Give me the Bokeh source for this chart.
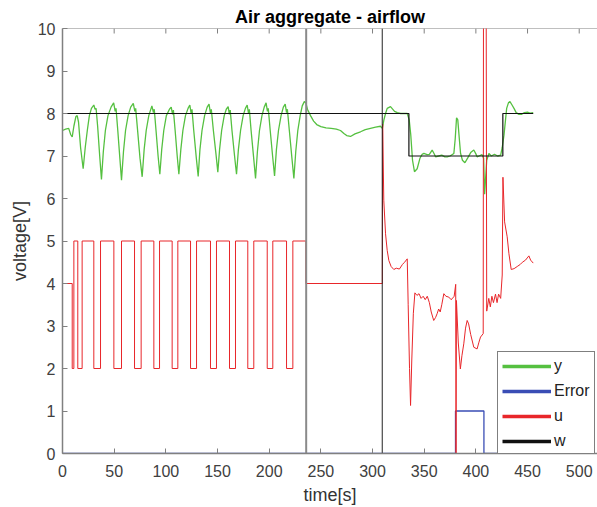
from bokeh.plotting import figure
from bokeh.models import Range1d, FixedTicker, Legend, LegendItem
from bokeh.embed import file_html
from bokeh.resources import INLINE

# ---------------- data ----------------
x_ticks = [0, 50, 100, 150, 200, 250, 300, 350, 400, 450, 500]
y_ticks = [0, 1, 2, 3, 4, 5, 6, 7, 8, 9, 10]

y_t = [0, 3, 6, 8, 9.4, 11, 13, 14.2, 15.5, 17.5, 20, 22, 24, 26, 28, 30.3, 31.5, 32.5, 34, 36, 37.7,
       39.5, 41.5, 44, 47, 49.5, 51, 51.8, 53.5, 55.5, 57.1, 59, 61, 63.5, 66, 68.5, 70, 70.8, 72.5, 75, 77.1,
       79, 81, 83.5, 86.5, 88, 88.8, 90.5, 92.5, 94.2, 96, 98, 100.5, 103.5, 105.2, 106.5, 107.3, 109, 111, 112.6,
       114.5, 116.5, 119, 121.5, 123.2, 124.5, 125.3, 127, 129.5, 131.3, 133, 135, 137.5, 140, 141.8, 143.2, 144,
       146, 148.5, 150.3, 152, 154, 156.5, 158.5, 160.3, 161.5, 162.3, 164, 166.5, 168.4, 170.2, 172.3, 174.8,
       177, 178.7, 180, 180.8, 182.5, 185, 186.8, 188.6, 190.6, 193, 195.2, 197, 198.3, 199.1, 201, 203.3, 205.2,
       207, 209, 211.5, 213.7, 215.5, 216.8, 217.6, 219.5, 222, 223.9, 225.7, 227.7, 230, 232, 234, 235.5, 237,
       240, 243, 246, 250, 255, 260, 265, 269, 272.3, 275, 278.7, 283, 288.4, 293, 298, 303, 307.7, 309.5, 311,
       312.6, 314.2, 317.4, 321.3, 324, 327.2, 330, 333.6, 335.5, 337, 338.7, 340.6, 343.2, 345.8, 348, 349.7,
       352.8, 355, 357.7, 359.5, 361, 364, 367, 370, 372.3, 375, 378.7, 380, 381.3, 382.5, 384, 385.2, 387,
       389.4, 392, 395, 398, 400, 401.2, 403, 406, 407.5, 408.5, 410.5, 412.6, 415, 418, 421, 424, 425.5, 427.2,
       429.8, 431.5, 433, 435, 436.9, 439, 441.7, 444, 447, 450, 452.3, 455.5]
y_v = [7.60, 7.63, 7.65, 7.50, 7.45, 7.70, 7.93, 7.95, 7.80, 7.20, 6.70, 7.20, 7.60, 7.95, 8.12, 8.20, 8.10, 8.12, 7.70, 7.00, 6.45,
       7.10, 7.60, 7.95, 8.15, 8.25, 8.05, 8.12, 7.60, 6.95, 6.43, 7.10, 7.60, 7.95, 8.15, 8.24, 8.05, 8.12, 7.65, 6.95, 6.51,
       7.15, 7.60, 7.95, 8.18, 8.02, 8.10, 7.60, 7.00, 6.57, 7.15, 7.60, 7.95, 8.10, 8.15, 7.98, 8.08, 7.60, 7.00, 6.57,
       7.15, 7.60, 7.95, 8.12, 8.20, 8.00, 8.10, 7.60, 6.95, 6.52, 7.15, 7.60, 7.95, 8.15, 8.22, 8.00, 8.10,
       7.60, 7.05, 6.62, 7.15, 7.60, 7.95, 8.10, 8.16, 7.98, 8.08, 7.60, 7.00, 6.57, 7.15, 7.60, 7.95,
       8.12, 8.20, 8.00, 8.10, 7.60, 6.95, 6.47, 7.10, 7.60, 7.95, 8.15, 8.25, 8.05, 8.12, 7.60, 7.00, 6.53,
       7.15, 7.60, 7.95, 8.15, 8.22, 8.02, 8.10, 7.60, 6.95, 6.47, 7.10, 7.60, 7.95, 8.18, 8.28, 8.25, 8.10,
       7.95, 7.82, 7.74, 7.69, 7.66, 7.65, 7.63, 7.60, 7.53, 7.48, 7.46, 7.52, 7.57, 7.62, 7.65, 7.68, 7.70, 7.65, 7.85,
       8.00, 8.12, 8.16, 8.05, 8.02, 8.00, 8.00, 8.00, 7.85, 7.50, 6.90, 6.63, 6.70, 6.94, 7.04, 7.06,
       7.03, 7.04, 7.14, 7.06, 6.98, 7.00, 7.02, 6.98, 6.98, 7.00, 7.06, 7.40, 7.90, 7.85, 7.40, 7.06, 6.90,
       6.84, 6.95, 7.08, 7.14, 7.05, 6.98, 7.00, 7.03, 6.95, 6.10, 6.90, 7.06, 7.00, 7.04, 7.00, 7.02, 7.20, 7.49,
       8.12, 8.25, 8.28, 8.20, 8.12, 8.02, 7.98, 7.98, 8.02, 8.03, 8.01, 8.02]

err_t = [0, 380.3, 380.3, 407.8, 407.8, 455.5]
err_v = [0, 0, 1, 1, 0, 0]

u_t = [0, 9.4, 9.4, 11, 11, 14.8, 14.8, 19, 19, 30.3, 30.3, 36.8, 36.8, 49.7, 49.7, 57.1, 57.1, 69.7, 69.7,
       76.1, 76.1, 88.4, 88.4, 93.9, 93.9, 106.1, 106.1, 111.6, 111.6, 123.9, 123.9, 129.7, 129.7, 143.2, 143.2,
       149, 149, 161.6, 161.6, 167.4, 167.4, 179.3, 179.3, 185.1, 185.1, 198.1, 198.1, 203.5, 203.5, 216.8, 216.8,
       222.9, 222.9, 235.5, 235.5, 309.5, 309.8, 310.9, 312.6, 314.2, 315.8, 318, 320.6, 323, 326, 329, 331, 333.6,
       334.5, 335.8, 336.8, 338, 339.5, 341, 343, 345, 347, 349, 351, 353, 355, 356.8, 359.2, 361, 362.5, 364,
       365.5, 367, 369, 371, 373.8, 376, 377, 379, 380.5, 380.8, 381.2, 383, 385, 386.5, 388.3, 390, 391.6, 393,
       395, 398, 401.2, 403, 404.5, 407.1, 407.7, 409.3, 410.5, 412.5, 414, 415.5, 417, 419, 420.5, 422, 424,
       425.5, 426.2, 427.8, 430.3, 432, 434.2, 437, 440, 443, 445, 448, 451.3, 453, 455.5]
u_v = [4, 4, 2, 2, 5, 5, 2, 2, 5, 5, 2, 2, 5, 5, 2, 2, 5, 5, 2,
       2, 5, 5, 2, 2, 5, 5, 2, 2, 5, 5, 2, 2, 5, 5, 2,
       2, 5, 5, 2, 2, 5, 5, 2, 2, 5, 5, 2, 2, 5, 5, 2,
       2, 5, 5, 4, 4, 7.75, 5.96, 5.17, 4.78, 4.54, 4.40, 4.33, 4.36, 4.34, 4.45, 4.50, 4.58,
       3.5, 2.0, 1.13, 2.2, 3.3, 3.78, 3.72, 3.76, 3.65, 3.70, 3.62, 3.70, 3.55, 3.33, 3.13, 3.20, 3.29, 3.40,
       3.33, 3.50, 3.76, 3.70, 3.68, 3.62, 3.64, 3.70, 3.98, 0, 3.60, 2.60, 1.99, 2.30, 2.58, 2.95, 3.13, 3.05,
       2.80, 2.50, 2.46, 2.62, 2.74, 2.82, 20, 20, 3.35, 3.65, 3.45, 3.70, 3.55, 3.75, 3.55, 3.75, 3.65,
       4.2, 6.5, 5.45, 5.1, 4.7, 4.33, 4.35, 4.40, 4.45, 4.50, 4.55, 4.65, 4.55, 4.48]

w_t = [0, 335.2, 335.2, 426.1, 426.1, 455.5]
w_v = [8, 8, 7, 7, 8, 8]

marker_t = [235.8, 309.4]
marker_colors = ["#8a8a8a", "#222222"]
marker_widths = [2, 1]

series_names = ["y", "Error", "u", "w"]
series_colors = ["#55c040", "#3a4db5", "#e8262a", "#111111"]
series_t = [y_t, err_t, u_t, w_t]
series_v = [y_v, err_v, u_v, w_v]

Y_MIN, Y_MAX = 0, 10
X_MIN, X_MAX = 0, 517.7

# ---------------- figure ----------------
FONT = "Liberation Sans"
AXIS_GRAY = "#808080"
p = figure(width=597, height=507, output_backend="svg", toolbar_location=None,
           x_range=Range1d(X_MIN, X_MAX), y_range=Range1d(Y_MIN, Y_MAX),
           min_border_left=62, min_border_right=0, min_border_top=28, min_border_bottom=54,
           title="Air aggregate - airflow")
p.title.text_font = FONT
p.title.text_font_size = "18px"
p.title.text_font_style = "bold"
p.title.align = "center"
p.title.text_color = "#000000"
p.title.standoff = 4

p.xgrid.visible = False
p.ygrid.visible = False
p.outline_line_color = None
p.background_fill_color = "white"
p.border_fill_color = "white"

p.xaxis.ticker = FixedTicker(ticks=x_ticks)
p.yaxis.ticker = FixedTicker(ticks=y_ticks)
for ax in (p.xaxis[0], p.yaxis[0]):
    ax.major_tick_in = 5
    ax.major_tick_out = 0
    ax.minor_tick_line_color = None
    ax.axis_line_color = AXIS_GRAY
    ax.axis_line_width = 1.5
    ax.major_tick_line_color = AXIS_GRAY
    ax.major_label_text_font = FONT
    ax.major_label_text_font_size = "16px"
    ax.major_label_text_color = "#404040"
    ax.axis_label_text_font = FONT
    ax.axis_label_text_font_size = "18px"
    ax.axis_label_text_font_style = "normal"
    ax.axis_label_text_color = "#333333"
p.xaxis.axis_label = "time[s]"
p.yaxis.axis_label = "voltage[V]"
p.xaxis.major_label_standoff = 11
p.yaxis.major_label_standoff = 7
p.xaxis.axis_label_standoff = 5
p.yaxis.axis_label_standoff = 5

# top border of the box with inward tick marks at the x ticks
tick_len = 5 * (Y_MAX - Y_MIN) / 425.0
p.segment(x0=[X_MIN], y0=[Y_MAX], x1=[X_MAX], y1=[Y_MAX], line_color=AXIS_GRAY, line_width=1)
p.segment(x0=x_ticks, y0=[Y_MAX] * len(x_ticks), x1=x_ticks, y1=[Y_MAX - tick_len] * len(x_ticks),
          line_color=AXIS_GRAY, line_width=1)

# ---------------- data lines ----------------
p.line(y_t, y_v, line_color=series_colors[0], line_width=1.3)
p.line(err_t, err_v, line_color=series_colors[1], line_width=1.3)
p.line(u_t, u_v, line_color=series_colors[2], line_width=1)
p.segment(x0=marker_t, y0=[Y_MIN] * len(marker_t), x1=marker_t, y1=[Y_MAX] * len(marker_t),
          line_color=marker_colors, line_width=marker_widths)
p.line(w_t, w_v, line_color=series_colors[3], line_width=1.2)

# legend samples: thicker hidden copies of the series
items = []
for name, col, tt, vv in zip(series_names, series_colors, series_t, series_v):
    r = p.line(tt, vv, line_color=col, line_width=3.5, visible=False)
    items.append(LegendItem(label=name, renderers=[r]))
legend = Legend(items=items, location=(435, -3), margin=0, padding=4, spacing=5,
                glyph_width=49, glyph_height=20, label_height=20, label_standoff=3,
                label_text_font=FONT, label_text_font_size="16px", label_text_color="#222222",
                border_line_color="#000000", border_line_width=1, background_fill_alpha=1.0,
                click_policy="none")
p.add_layout(legend, "center")

open("out.html", "w").write(file_html(p, INLINE))
